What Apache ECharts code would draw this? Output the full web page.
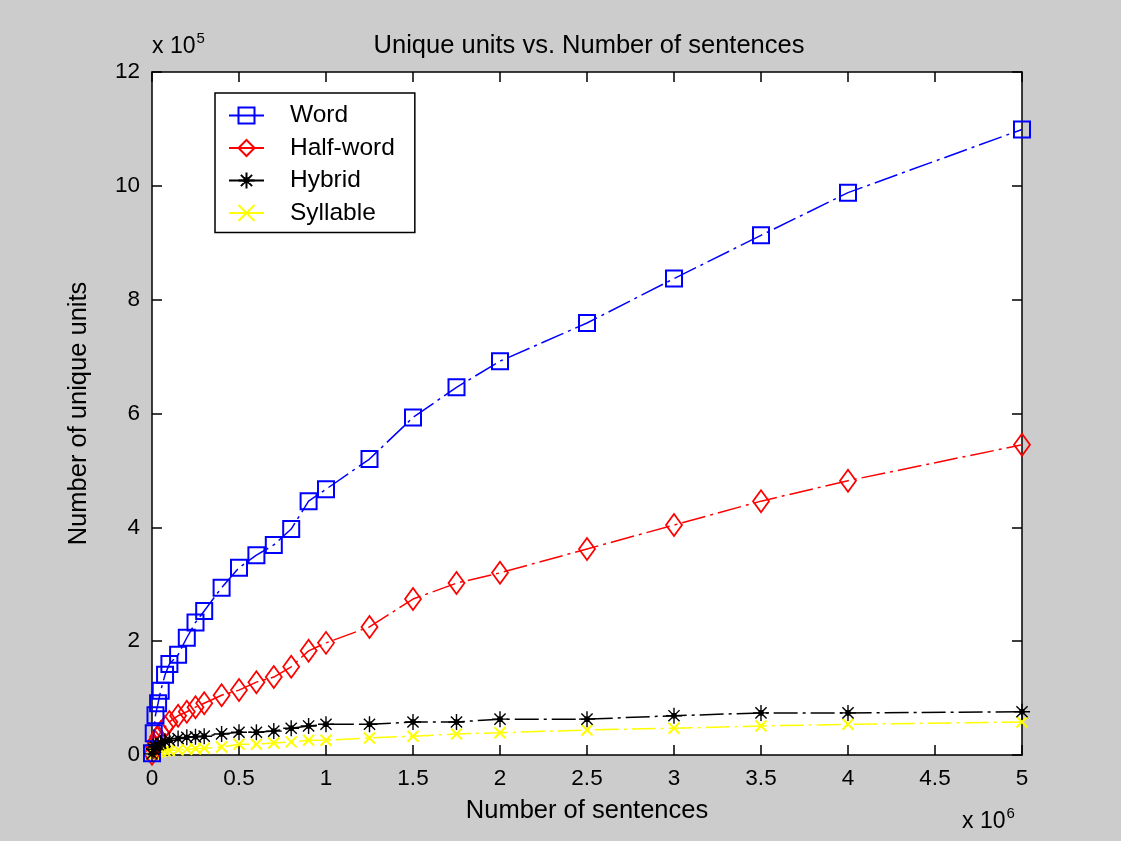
<!DOCTYPE html>
<html>
<head>
<meta charset="utf-8">
<script src="https://cdn.jsdelivr.net/npm/echarts@6/dist/echarts.min.js"></script>
<style>
html,body{margin:0;padding:0;background:#cccccc;}
#chart{width:1121px;height:841px;}
</style>
</head>
<body>
<div id="chart"></div>
<script>
// Number of sentences (raw counts)
var sentences = [0, 1e4, 2e4, 3.5e4, 5e4, 7.5e4, 1e5, 1.5e5, 2e5, 2.5e5, 3e5, 4e5, 5e5, 6e5, 7e5, 8e5, 9e5, 1e6, 1.25e6, 1.5e6, 1.75e6, 2e6, 2.5e6, 3e6, 3.5e6, 4e6, 5e6];
// Unique units, in units of 1e5
var wordUnits = [0.03, 0.38, 0.70, 0.91, 1.13, 1.41, 1.60, 1.76, 2.06, 2.33, 2.53, 2.94, 3.29, 3.51, 3.69, 3.97, 4.46, 4.67, 5.20, 5.93, 6.46, 6.92, 7.59, 8.37, 9.13, 9.88, 10.99];
var halfWordUnits = [0.02, 0.14, 0.23, 0.32, 0.40, 0.49, 0.58, 0.69, 0.76, 0.84, 0.91, 1.05, 1.14, 1.28, 1.37, 1.55, 1.83, 1.97, 2.25, 2.74, 3.02, 3.20, 3.62, 4.04, 4.46, 4.82, 5.45];
var hybridUnits = [0.02, 0.10, 0.14, 0.18, 0.21, 0.24, 0.26, 0.29, 0.31, 0.32, 0.33, 0.37, 0.40, 0.40, 0.42, 0.47, 0.51, 0.54, 0.54, 0.58, 0.58, 0.63, 0.63, 0.69, 0.74, 0.74, 0.76];
var syllableUnits = [0.01, 0.03, 0.04, 0.05, 0.06, 0.07, 0.08, 0.09, 0.10, 0.11, 0.12, 0.14, 0.19, 0.19, 0.21, 0.23, 0.26, 0.26, 0.30, 0.33, 0.37, 0.39, 0.44, 0.47, 0.51, 0.54, 0.58];
var seriesNames = ['Word', 'Half-word', 'Hybrid', 'Syllable'];
var titleText = 'Unique units vs. Number of sentences';
var xName = 'Number of sentences';
var yName = 'Number of unique units';

function pairs(ys) { return sentences.map(function (x, i) { return [x, ys[i]]; }); }

var FONT = 'Liberation Sans, Arial, sans-serif';
var dash = [24, 5, 3, 5];

function axisCommon(extra) {
  var o = {
    axisLine: { show: true, onZero: false, lineStyle: { color: '#000', width: 1.5 } },
    axisTick: { show: true, inside: true, length: 10, lineStyle: { color: '#000', width: 1.5 } },
    splitLine: { show: false },
    axisLabel: { color: '#000', fontFamily: FONT, fontSize: 22 }
  };
  for (var k in extra) o[k] = extra[k];
  return o;
}

var chart = echarts.init(document.getElementById('chart'), null, { renderer: 'canvas' });
chart.setOption({
  backgroundColor: '#cccccc',
  animation: false,
  title: {
    text: titleText, left: 584, top: 28, textAlign: 'center',
    textStyle: { color: '#000', fontFamily: FONT, fontSize: 25.5, fontWeight: 'normal' }
  },
  grid: { left: 152, right: 99, top: 72, bottom: 86, show: true, backgroundColor: '#ffffff', borderWidth: 0 },
  legend: {
    orient: 'vertical', left: 215, top: 93,
    data: seriesNames,
    backgroundColor: '#ffffff', borderColor: '#000', borderWidth: 1.5,
    padding: [10, 20, 7, 13],
    itemWidth: 35, itemHeight: 20, itemGap: 7.5,
    lineStyle: { type: 'solid' },
    textStyle: { color: '#000', fontFamily: FONT, fontSize: 24.5, lineHeight: 24, padding: [0, 0, 0, 21] }
  },
  xAxis: [
    axisCommon({
      type: 'value', position: 'bottom', min: 0, max: 5e6, interval: 5e5,
      name: xName, nameLocation: 'middle', nameGap: 43,
      nameTextStyle: { color: '#000', fontFamily: FONT, fontSize: 25.5 },
      axisLabel: { color: '#000', fontFamily: FONT, fontSize: 22.5, margin: 12,
        formatter: function (v) { return String(Math.round(v / 1e5) / 10); } }
    }),
    axisCommon({
      type: 'value', position: 'top', min: 0, max: 5e6, interval: 5e5,
      axisLabel: { show: false }
    })
  ],
  yAxis: [
    axisCommon({
      type: 'value', position: 'left', min: 0, max: 12, interval: 2,
      name: yName, nameLocation: 'middle', nameGap: 60,
      nameTextStyle: { color: '#000', fontFamily: FONT, fontSize: 25.5 },
      axisLabel: { color: '#000', fontFamily: FONT, fontSize: 22.5, margin: 12 }
    }),
    axisCommon({
      type: 'value', position: 'right', min: 0, max: 12, interval: 2,
      axisLabel: { show: false }
    })
  ],
  graphic: [
    { type: 'text', left: 152, top: 31, z: 10,
      style: { text: '{a|x 10}{s|5}', fill: '#000',
        rich: { a: { fontFamily: FONT, fontSize: 23, verticalAlign: 'bottom' },
                s: { fontFamily: FONT, fontSize: 15, verticalAlign: 'bottom', padding: [0, 0, 12, 1] } } } },
    { type: 'text', left: 962, top: 806, z: 10,
      style: { text: '{a|x 10}{s|6}', fill: '#000',
        rich: { a: { fontFamily: FONT, fontSize: 23, verticalAlign: 'bottom' },
                s: { fontFamily: FONT, fontSize: 15, verticalAlign: 'bottom', padding: [0, 0, 12, 1] } } } }
  ],
  series: [
    { name: seriesNames[0], type: 'line', data: pairs(wordUnits),
      symbol: 'rect', symbolSize: 16, showAllSymbol: true,
      lineStyle: { color: '#0000ff', width: 1.5, type: dash },
      itemStyle: { color: 'none', borderColor: '#0000ff', borderWidth: 2 },
      emphasis: { disabled: true }, z: 4 },
    { name: seriesNames[1], type: 'line', data: pairs(halfWordUnits),
      symbol: 'diamond', symbolSize: [16, 22], showAllSymbol: true,
      lineStyle: { color: '#ff0000', width: 1.5, type: dash },
      itemStyle: { color: 'none', borderColor: '#ff0000', borderWidth: 1.8 },
      emphasis: { disabled: true }, z: 3 },
    { name: seriesNames[2], type: 'line', data: pairs(hybridUnits),
      symbol: 'path://M0,5L10,5M5,0L5,10M1.5,1.5L8.5,8.5M8.5,1.5L1.5,8.5M3.6,5a1.4,1.4 0 1,0 2.8,0a1.4,1.4 0 1,0 -2.8,0',
      symbolSize: 16, showAllSymbol: true,
      lineStyle: { color: '#000000', width: 1.5, type: dash },
      itemStyle: { color: '#000000', borderColor: '#000000', borderWidth: 1.4 },
      emphasis: { disabled: true }, z: 5 },
    { name: seriesNames[3], type: 'line', data: pairs(syllableUnits),
      symbol: 'path://M0,0L10,10M10,0L0,10', symbolSize: 11, showAllSymbol: true,
      lineStyle: { color: '#ffff00', width: 1.5, type: dash },
      itemStyle: { color: 'none', borderColor: '#ffff00', borderWidth: 2 },
      emphasis: { disabled: true }, z: 2 }
  ]
});
</script>
</body>
</html>
